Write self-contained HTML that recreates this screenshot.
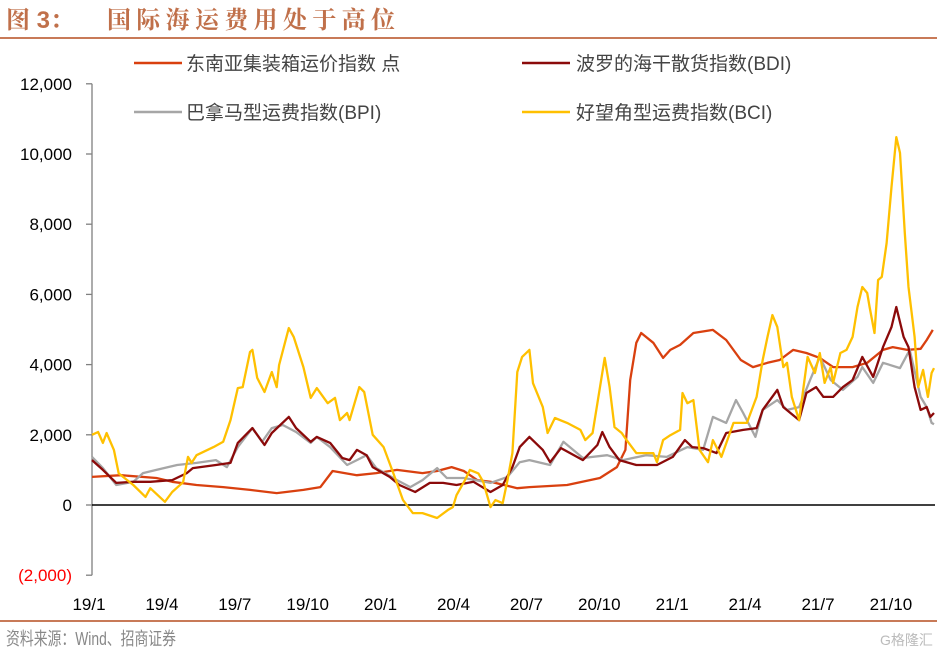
<!DOCTYPE html>
<html><head><meta charset="utf-8">
<style>
body{margin:0;background:#fff;width:937px;height:653px;overflow:hidden;font-family:"Liberation Sans","Noto Sans CJK SC",sans-serif}
svg{display:block}
</style></head>
<body>
<svg id="chart" width="937" height="653">
<g font-weight="bold" fill="#c0704a" font-family="'Liberation Sans','Noto Serif CJK SC',serif">
<text x="6" y="28" font-size="24">图 3：</text>
<text x="107" y="28" font-size="24" textLength="288" lengthAdjust="spacing">国际海运费用处于高位</text>
</g>
<line x1="0" y1="38" x2="937" y2="38" stroke="#c87a58" stroke-width="2"/>
<line x1="0" y1="621" x2="937" y2="621" stroke="#c87a58" stroke-width="2"/>
<text x="6" y="645" font-size="18" fill="#888" textLength="170" lengthAdjust="spacingAndGlyphs">资料来源：Wind、招商证券</text>
<text x="880" y="645" font-size="14" fill="#bbb">G格隆汇</text>
<g id="axes"></g>
<g id="series"></g>
<g id="legend">
 <g><line x1="134" y1="63" x2="182" y2="63" stroke="#d9400f" stroke-width="2.5"/><text x="186" y="70" font-size="19" fill="#444">东南亚集装箱运价指数 点</text></g>
 <g><line x1="522" y1="63" x2="570" y2="63" stroke="#8b0a0a" stroke-width="2.5"/><text x="576" y="70" font-size="19" fill="#444">波罗的海干散货指数(BDI)</text></g>
 <g><line x1="134" y1="112" x2="182" y2="112" stroke="#a6a6a6" stroke-width="2.5"/><text x="186" y="119" font-size="19" fill="#444">巴拿马型运费指数(BPI)</text></g>
 <g><line x1="522" y1="112" x2="570" y2="112" stroke="#ffc000" stroke-width="2.5"/><text x="576" y="119" font-size="19" fill="#444">好望角型运费指数(BCI)</text></g>
</g>
</svg>
<script>
// months since 2019-01 and values
const yTicks=[-2000,0,2000,4000,6000,8000,10000,12000];
const yTickLabels=["(2,000)","0","2,000","4,000","6,000","8,000","10,000","12,000"];
const xTickMonths=[0,3,6,9,12,15,18,21,24,27,30,33];
const xTickLabels=["19/1","19/4","19/7","19/10","20/1","20/4","20/7","20/10","21/1","21/4","21/7","21/10"];
const seaM=[0,1.2,2.65,3.3,4.3,5.4,6.5,7.6,8.7,9.4,9.9,10.9,11.7,12.55,13.6,14.2,14.8,15.3,15.85,16.4,17.5,18,19.55,20.9,21.6,21.95,22.15,22.4,22.6,23.1,23.5,23.8,24.2,24.75,25.55,26.1,26.7,27.2,27.8,28.3,28.85,29.4,29.95,30.5,31.3,31.9,32.55,32.95,33.55,34.1,34.35,34.6];
const seaV=[800,850,770,660,570,510,430,340,430,510,970,850,910,1000,910,970,1080,970,710,660,480,510,570,770,1080,1570,3560,4620,4900,4620,4190,4420,4560,4900,4990,4700,4130,3930,4050,4130,4420,4330,4190,3930,3930,4050,4420,4500,4420,4450,4700,4990];
const bdiM=[0,0.45,1,1.7,2.4,3.3,3.9,4.15,5.1,5.7,6,6.6,7.1,7.4,8.1,8.4,9,9.25,9.8,10.3,10.6,10.9,11.3,11.55,12.25,12.65,13.3,13.9,14.45,15,15.7,16.4,16.9,17.3,17.6,18,18.55,18.85,19.3,20.2,20.8,21,21.3,21.7,22.4,23.25,23.9,24.4,24.7,25.15,25.7,26.1,26.8,27.35,27.6,28.2,28.45,29.1,29.4,29.8,30.1,30.5,30.9,31.3,31.7,32.15,32.55,32.9,33.1,33.4,33.6,33.85,34.1,34.35,34.5,34.65];
const bdiV=[1280,1000,630,660,660,710,910,1050,1140,1200,1770,2190,1710,2050,2510,2190,1800,1940,1770,1340,1280,1570,1420,1080,800,570,370,630,630,570,660,370,570,1080,1650,1940,1570,1220,1620,1280,1710,2080,1650,1280,1140,1140,1370,1850,1650,1620,1480,2050,2140,2190,2710,3280,2790,2420,3190,3360,3080,3080,3360,3560,4220,3650,4500,5070,5640,4790,4500,3360,2710,2790,2510,2620];
const bpiM=[0,0.45,1,1.7,2.1,2.65,3.5,4.3,5.1,5.55,6,6.6,7,7.4,7.85,8.4,9,9.25,9.8,10.5,10.9,11.3,11.7,12.55,13.1,13.6,14.2,14.6,15.3,16.4,17.1,17.6,18,18.85,19.4,20.2,21.2,21.85,22.8,23.65,24.5,25.15,25.55,26.1,26.5,26.8,27.3,27.6,28.2,28.6,29.1,29.55,29.95,30.4,30.9,31.5,31.7,32.15,32.55,33.25,33.65,34.1,34.35,34.55,34.65];
const bpiV=[1370,1050,570,660,910,1000,1140,1200,1280,1080,1650,2190,1800,2190,2280,2080,1770,1940,1650,1140,1280,1420,1050,710,510,710,1050,770,770,630,800,1220,1280,1140,1800,1340,1420,1280,1420,1370,1650,1570,2510,2340,2990,2620,1940,2710,2990,2710,2790,3560,4220,3560,3280,3650,3930,3480,4050,3900,4420,3080,2790,2340,2300];
const bciM=[0,0.25,0.45,0.6,0.9,1.1,1.7,2.2,2.4,3,3.3,3.75,3.95,4.1,4.3,5,5.4,5.7,6,6.2,6.5,6.6,6.8,7.1,7.4,7.6,7.7,8.1,8.3,8.7,9,9.25,9.7,10,10.2,10.5,10.6,11,11.2,11.55,12,12.4,12.8,13.2,13.6,14.2,14.65,14.85,15,15.35,15.55,15.9,16.1,16.4,16.6,16.9,17.1,17.3,17.5,17.7,18,18.15,18.55,18.75,19.05,19.55,20.1,20.3,20.6,20.8,21.1,21.3,21.5,21.8,22,22.4,23.1,23.25,23.5,23.8,24.2,24.3,24.5,24.75,25,25.35,25.55,25.9,26.4,26.95,27.35,27.6,27.8,28,28.2,28.45,28.6,28.8,29.1,29.45,29.75,29.95,30.15,30.4,30.5,30.8,31.05,31.3,31.5,31.7,31.9,32,32.2,32.35,32.5,32.7,32.9,33.1,33.25,33.45,33.6,33.85,34,34.2,34.4,34.55,34.65];
const bciV=[2000,2080,1770,2050,1570,900,570,230,480,90,370,650,1370,1200,1420,1650,1800,2420,3330,3360,4360,4420,3620,3220,3790,3360,3990,5040,4790,3930,3050,3330,2900,3050,2420,2620,2420,3360,3220,2000,1650,910,140,-230,-230,-370,-140,-60,280,710,1000,900,660,-60,140,50,710,1480,3790,4220,4420,3470,2790,2050,2480,2340,2140,1850,2050,2900,4190,3360,2220,2050,1850,1480,1480,1220,1850,1990,2140,3190,2900,2990,1570,1220,1850,1370,2340,2340,3080,4130,4790,5410,5070,3930,4050,3080,2420,4220,3760,4330,3480,3930,3480,4330,4420,4790,5640,6210,6040,5640,4900,6410,6500,7460,9060,10480,10030,7750,6210,4790,3360,3850,3080,3760,3900];

const NS="http://www.w3.org/2000/svg";
const X0=92, PXM=24.3, Y0=505, PYV=70.2/2000;
const xs=m=>X0+m*PXM, ys=v=>Y0-v*PYV;
const axes=document.getElementById('axes'), ser=document.getElementById('series');
function mk(tag,attrs,parent){const e=document.createElementNS(NS,tag);for(const k in attrs)e.setAttribute(k,attrs[k]);parent.appendChild(e);return e;}
const ya=mk('line',{x1:X0,y1:ys(12000),x2:X0,y2:ys(-2000),stroke:'#808080','stroke-width':1.3},axes);


yTicks.forEach((v,i)=>{
 const t=mk('line',{x1:X0-6,y1:ys(v),x2:X0,y2:ys(v),stroke:'#808080','stroke-width':1.3},axes);
 
 
 const l=mk('text',{x:72,y:ys(v)+6,'text-anchor':'end','font-size':17,fill:v<0?'#ff0000':'#000'},axes);
 l.textContent=yTickLabels[i];
 
 
});
xTickMonths.forEach((m,i)=>{
 const l=mk('text',{x:xs(m)-3,y:610,'text-anchor':'middle','font-size':17,fill:'#000'},axes);
 l.textContent=xTickLabels[i];
 
 
});
const xa=mk('line',{x1:X0,y1:Y0,x2:935,y2:Y0,stroke:'#000','stroke-width':1.6},axes);


function line(M,V,color,name){
 const d=M.map((m,i)=>(i?'L':'M')+xs(m).toFixed(1)+','+ys(V[i]).toFixed(1)).join('');
 const p=mk('path',{d:d,fill:'none',stroke:color,'stroke-width':2.3,'stroke-linejoin':'round'},ser);
 
 
}
line(seaM,seaV,'#d9400f','seasia-container-line');
line(bpiM,bpiV,'#a6a6a6','bpi-line');
line(bdiM,bdiV,'#8b0a0a','bdi-line');
line(bciM,bciV,'#ffc000','bci-line');
</script>
</body></html>
